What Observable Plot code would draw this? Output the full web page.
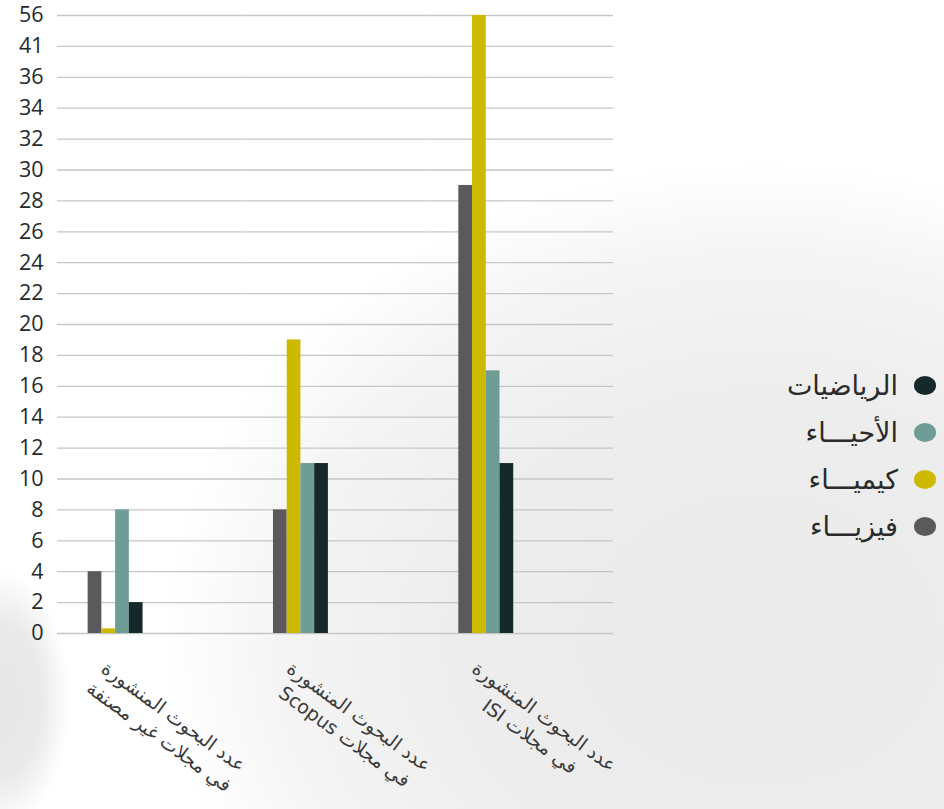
<!DOCTYPE html>
<html>
<head>
<meta charset="utf-8">
<script src="https://cdn.jsdelivr.net/npm/d3@7"></script>
<script src="https://cdn.jsdelivr.net/npm/@observablehq/plot@0.6"></script>
<style>
  body { margin: 0; background: #ffffff; }
  #wrap {
    position: relative; width: 944px; height: 809px; overflow: hidden;
    background:
      radial-gradient(ellipse 70px 130px at 0px 700px, #e6e6e6 0%, #eaeaea 60%, rgba(255,255,255,0) 100%),
      radial-gradient(ellipse 600px 480px at 760px 640px, #eaeaea 0%, #ededed 50%, rgba(240,240,240,0.7) 80%, rgba(255,255,255,0) 100%);
  }
  #chart { position: absolute; left: 0; top: 0; }
  #legend {
    position: absolute; right: 8px; top: 362px; direction: rtl;
    font-family: "DejaVu Sans", sans-serif; font-size: 27px; color: #2a2a2a;
  }
  .row { display: flex; align-items: center; height: 47px; }
  .dot { width: 22px; height: 19px; border-radius: 50%; margin-left: 16px; }
</style>
</head>
<body>
<div id="wrap"><div id="chart"></div><div id="legend"></div></div>
<script>
const groups = [
  "عدد البحوث المنشورة\nفي مجلات غير مصنفة",
  "عدد البحوث المنشورة\nفي مجلات Scopus",
  "عدد البحوث المنشورة\nفي مجلات ISI"
];
const subjects = ["فيزيـــاء", "كيميـــاء", "الأحيـــاء", "الرياضيات"];
const colors = ["#5b595b", "#cdb900", "#6d9d95", "#15292b"];
const physics = [4, 8, 29];
const chemistry = [0.3, 19, 56];
const biology = [8, 11, 17];
const math = [2, 11, 11];
const yTicks = [0, 2, 4, 6, 8, 10, 12, 14, 16, 18, 20, 22, 24, 26, 28, 30, 32, 34, 36, 41, 56];

const series = [physics, chemistry, biology, math];
const rows = groups.flatMap((g, i) => subjects.map((s, j) => ({group: g, subject: s, value: series[j][i]})));

const chart = Plot.plot({
  width: 944,
  height: 809,
  marginTop: 15,
  marginBottom: 176,
  marginLeft: 57,
  marginRight: 331,
  style: {background: "transparent", fontFamily: "'Open Sans', sans-serif", color: "#1f2b2c"},
  fx: {domain: groups, padding: 0, axis: null, round: false, label: null},
  x: {domain: subjects, axis: null, paddingInner: 0, paddingOuter: 4.75, align: 0.235, round: false, label: null},
  y: {type: "linear", domain: yTicks, axis: null, label: null},
  color: {domain: subjects, range: colors},
  marks: [
    Plot.gridY(yTicks, {stroke: "#c6c6c6", strokeOpacity: 1, strokeWidth: 1.3}),
    Plot.axisY(yTicks, {tickSize: 0, tickPadding: 14, fontSize: 21.5, fontWeight: 500, fill: "#1f2b2c", label: null}),
    Plot.barY(rows, {fx: "group", x: "subject", y: "value", fill: "subject"}),
    Plot.text(groups, {
      fx: d => d, text: d => d, frameAnchor: "bottom", rotate: 36, dx: 17, dy: 92,
      lineAnchor: "middle", textAnchor: "middle", fontSize: 19, lineHeight: 1.3,
      fill: "#3a3a3a", fontFamily: "'DejaVu Sans', sans-serif"
    })
  ]
});
chart.querySelectorAll("text").forEach(t => {
  if (/[\u0600-\u06FF]/.test(t.textContent)) t.setAttribute("direction", "rtl");
});
document.getElementById("chart").appendChild(chart);

const legend = document.getElementById("legend");
subjects.map((s, j) => ({s, c: colors[j]})).reverse().forEach(({s, c}) => {
  const row = document.createElement("div");
  row.className = "row";
  const dot = document.createElement("span");
  dot.className = "dot";
  dot.style.background = c;
  const label = document.createElement("span");
  label.textContent = s;
  row.appendChild(dot);
  row.appendChild(label);
  legend.appendChild(row);
});
</script>
</body>
</html>
